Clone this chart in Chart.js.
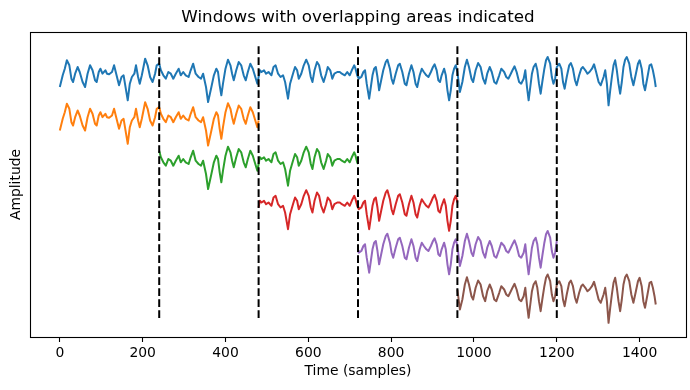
<!DOCTYPE html>
<html lang="en">
<head>
<meta charset="UTF-8">
<title>Windows with overlapping areas indicated</title>
<script src="https://cdn.jsdelivr.net/npm/chart.js"></script>
<style>
    html, body { margin: 0; padding: 0; background: #fff; }
</style>
</head>
<body>
<canvas id="chart" width="690" height="390"></canvas>
<script>
    // signal (time in samples, amplitude in arbitrary units)
    const sampleTimes = [
        0, 7, 12, 17, 23, 28, 32, 37, 43, 48, 55, 61, 67, 73, 79, 85, 89, 94, 98, 103,
        110, 114, 119, 126, 131, 137, 143, 149, 154, 160, 164, 169, 174, 180, 184, 189, 193, 198, 202, 206,
        212, 218, 224, 230, 234, 240, 244, 250, 256, 262, 268, 274, 280, 287, 292, 298, 304, 311, 316, 322,
        328, 335, 341, 346, 353, 358, 366, 372, 378, 382, 386, 390, 394, 400, 406, 412, 416, 420, 426, 432,
        438, 444, 449, 454, 460, 466, 472, 477, 480, 483, 487, 493, 498, 504, 511, 516, 521, 527, 533, 539,
        544, 551, 556, 563, 568, 573, 577, 583, 589, 595, 601, 606, 610, 615, 621, 626, 631, 637, 643, 647,
        653, 658, 663, 670, 676, 681, 688, 694, 700, 705, 711, 714, 718, 720, 722, 728, 733, 737, 741, 747,
        751, 755, 759, 763, 767, 771, 776, 781, 787, 791, 797, 801, 805, 811, 817, 821, 827, 833, 837, 843,
        849, 854, 859, 863, 869, 874, 879, 885, 890, 896, 901, 905, 910, 914, 918, 922, 928, 932, 936, 940,
        944, 948, 952, 956, 960, 966, 972, 978, 983, 988, 994, 998, 1004, 1010, 1016, 1022, 1027, 1032, 1038, 1043,
        1049, 1054, 1061, 1066, 1073, 1078, 1083, 1089, 1093, 1098, 1103, 1109, 1114, 1120, 1124, 1128, 1132, 1136, 1140, 1144,
        1149, 1153, 1157, 1161, 1165, 1170, 1174, 1178, 1184, 1188, 1192, 1196, 1200, 1206, 1211, 1215, 1219, 1224, 1230, 1234,
        1239, 1244, 1248, 1254, 1259, 1263, 1269, 1274, 1279, 1285, 1290, 1295, 1301, 1306, 1313, 1317, 1321, 1325, 1329, 1333,
        1337, 1341, 1345, 1349, 1353, 1357, 1361, 1365, 1369, 1375, 1380, 1385, 1391, 1396, 1400, 1405, 1409, 1413, 1419, 1424,
        1428, 1432, 1436, 1439
    ];
    const amplitudes = [
        -10, 1.7, 8.3, 16.7, 11.7, -1.7, -5, 3.3, 10, 5, -5, -10, 3.3, 11.7, 6.7, -3.3, -5, 5, 8.3, 3.3,
        6.7, 3.3, 2.7, 5, 11.7, 1.7, -8.3, 0, 1.7, -13.3, -23.3, -6.7, 0, 3.3, 11.7, 0, -6.7, 1.7, 10, 18.3,
        11.7, 0, -5, 3.3, 11.7, 13.3, 6.7, 1.7, -1.7, 5, 3.3, -1.7, 3.3, 8.3, 1.7, 5, 1.7, 0, 6.7, 13.3,
        3.3, 0, -1.7, 3.3, -10, -25, -10, 1.7, 8.3, 5, -8.3, -18.3, -6.7, 8.3, 17.3, 11.7, 3.3, -3.3, 6.7, 15,
        11.7, 1.7, -3.3, 5, 13.3, 8.3, 0, -6.7, 0, 6.7, 5, 6.7, 3.3, 5, 1.7, 10, 11.7, 3.3, 0, 1.7,
        -5, -21.7, -6.7, 3.3, 10, 6.7, -1.7, 3.3, 11.7, 17.3, 11.7, 0, -5, 6.7, 15, 11.7, 1.7, -5, 3.3, 10,
        6.7, -1.7, 3.3, 5, 5, 3.3, 1.7, 5, 1.7, 6.7, 11.7, 8.3, 1.7, 0, -1.7, 0, 5, 6.7, -6.7, -21.7,
        -10, 1.7, 8.3, 10, 0, -13.3, -3.3, 6.7, 15, 17.3, 8.3, -1.7, -6.7, 3.3, 11.7, 13.3, 5, -6.7, -8.3, 3.3,
        11.7, 5, -6.7, -10, 1.7, 8.3, 5, 1.7, 0, 5, 10, 12.7, 6.7, -3.3, -5, 1.7, 8.3, 1.7, -13.3, -23.3,
        -13.3, 1.7, 8.3, 11.7, 5, -15, -5, 10, 17.3, 10, -1.7, -5, 6.7, 14, 10, -1.7, -6.7, 3.3, 10, 5,
        -5, -6.7, 1.7, 8.3, 5, 0, -1.7, 3.3, 6.7, 10.7, 5, -5, -6.7, -1.7, 6.7, -10, -23.3, -10, 3.3, 10,
        13.3, 6.7, -6.7, -16.7, -5, 8.3, 16.7, 20, 13.3, 0, -6.7, -1.7, 10, 13.3, 8.3, -5, -11.7, 0, 11.7, 14,
        8.3, -3.3, -8.3, 1.7, 8.3, 10, 6.7, 3.3, 5, 8.3, 12.7, 5, -5, -8.3, 0, 6.7, -6.7, -28.3, -13.3, 0,
        11.7, 16.7, 6.7, -6.7, -16.7, -5, 10, 17.3, 20, 13.3, 0, -8.3, 3.3, 13.3, 16.7, 8.3, -6.7, -13.3, 0, 11.7,
        12.7, 6.7, -1.7, -10
    ];

    // overlapping windows: start sample, length, vertical offset, colour
    const windowStarts = [0, 240, 480, 720, 960];
    const windowLength = 480;
    const windowOffsets = [-43.5, -87, -130.5, -174, -217.5];
    const windowColors = ['#ff7f0e', '#2ca02c', '#d62728', '#9467bd', '#8c564b'];

    // dashed boundaries
    const boundaryTimes = [240, 480, 720, 960, 1200];
    const boundaryTop = 32;
    const boundaryBottom = -241;

    const xTickValues = [0, 200, 400, 600, 800, 1000, 1200, 1400];

    const TITLE = 'Windows with overlapping areas indicated';
    const FONT = 'DejaVu Sans';

    const signalPoints = sampleTimes.map((t, i) => ({ x: t, y: amplitudes[i] }));

    const datasets = [];
    datasets.push({
        data: signalPoints,
        borderColor: '#1f77b4',
        order: 10
    });
    windowStarts.forEach((start, w) => {
        const end = Math.min(start + windowLength, sampleTimes[sampleTimes.length - 1]);
        const pts = [];
        sampleTimes.forEach((t, i) => {
            if (t >= start && t <= end) pts.push({ x: t, y: amplitudes[i] + windowOffsets[w] });
        });
        datasets.push({
            data: pts,
            borderColor: windowColors[w],
            order: 9 - w
        });
    });
    boundaryTimes.forEach(t => {
        datasets.push({
            data: [{ x: t, y: boundaryBottom }, { x: t, y: boundaryTop }],
            borderColor: '#000',
            borderDash: [7.7, 3.3],
            borderCapStyle: 'butt',
            order: 0
        });
    });

    // axes frame on all four sides + title centred over the axes
    const framePlugin = {
        id: 'frame',
        afterDatasetsDraw(chart) {
            const a = chart.chartArea;
            const ctx = chart.ctx;
            ctx.save();
            ctx.strokeStyle = '#000';
            ctx.lineWidth = 1.1;
            ctx.strokeRect(Math.round(a.left) + 0.5, Math.round(a.top) + 0.5,
                Math.round(a.right - a.left), Math.round(a.bottom - a.top));
            ctx.fillStyle = '#000';
            ctx.font = '16.7px "' + FONT + '"';
            ctx.textAlign = 'center';
            ctx.textBaseline = 'middle';
            ctx.fillText(TITLE, (a.left + a.right) / 2, 18);
            ctx.restore();
        }
    };

    new Chart(document.getElementById('chart'), {
        type: 'line',
        data: { datasets: datasets },
        options: {
            responsive: false,
            animation: false,
            devicePixelRatio: 1,
            elements: {
                line: { borderWidth: 2, tension: 0, fill: false, borderJoinStyle: 'round' },
                point: { radius: 0, hoverRadius: 0 }
            },
            layout: { padding: { left: 0, right: 4, top: 32, bottom: 0 } },
            plugins: {
                legend: { display: false },
                tooltip: { enabled: false },
                title: { display: false }
            },
            scales: {
                x: {
                    type: 'linear',
                    min: -72,
                    max: 1512,
                    afterBuildTicks: s => { s.ticks = xTickValues.map(v => ({ value: v })); },
                    afterFit: s => { s.height = 53; },
                    ticks: {
                        color: '#000',
                        font: { family: FONT, size: 13.9 },
                        padding: 3,
                        maxRotation: 0,
                        autoSkip: false,
                        callback: v => String(v)
                    },
                    grid: {
                        display: true,
                        drawOnChartArea: false,
                        drawTicks: true,
                        tickLength: 5,
                        tickColor: '#000',
                        tickWidth: 1.1
                    },
                    border: { display: false },
                    title: {
                        display: true,
                        text: 'Time (samples)',
                        color: '#000',
                        font: { family: FONT, size: 13.9 },
                        padding: { top: 0, bottom: 10 }
                    }
                },
                y: {
                    type: 'linear',
                    min: -260,
                    max: 45,
                    afterFit: s => { s.width = 30; },
                    ticks: { display: false },
                    grid: { display: false },
                    border: { display: false },
                    title: {
                        display: true,
                        text: 'Amplitude',
                        color: '#000',
                        font: { family: FONT, size: 13.9 },
                        padding: { top: 8, bottom: 0 }
                    }
                }
            }
        },
        plugins: [framePlugin]
    });
</script>
</body>
</html>
